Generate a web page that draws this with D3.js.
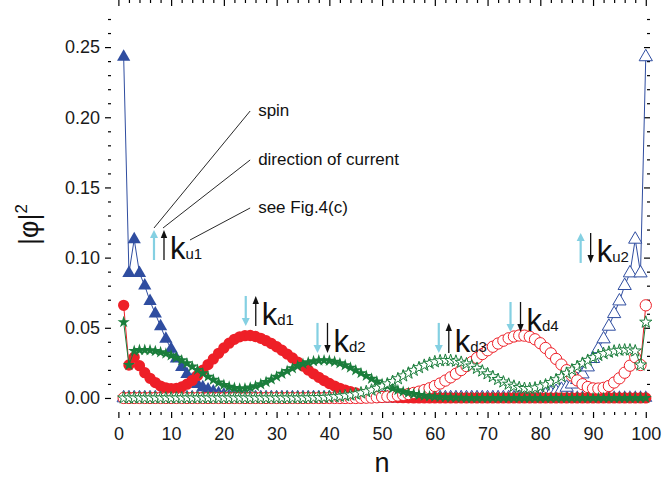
<!DOCTYPE html>
<html>
<head>
<meta charset="utf-8">
<script src="https://cdnjs.cloudflare.com/ajax/libs/d3/7.8.5/d3.min.js"></script>
<style>
body { margin: 0; background: #fff; }
svg { display: block; font-family: "Liberation Sans", Arial, sans-serif; }
</style>
</head>
<body>
<svg width="662" height="479"></svg>
<script>
// site index n = 1..100
var sites = d3.range(1, 101);

// |phi|^2, one value per site
var ku1 = [0.243, 0.089, 0.113, 0.089, 0.080, 0.069, 0.060, 0.051, 0.042, 0.035,
    0.028, 0.022, 0.017, 0.013, 0.0098, 0.0075, 0.006, 0.0045, 0.0033, 0.0023,
    0.0015, 0.001, 0.0006, 0.0003, 0.0001, 0, 0, 0, 0, 0,
    0, 0, 0, 0, 0, 0, 0, 0, 0, 0,
    0, 0, 0, 0, 0, 0, 0, 0, 0, 0,
    0, 0, 0, 0, 0, 0, 0, 0, 0, 0,
    0, 0, 0, 0, 0, 0, 0, 0, 0, 0,
    0, 0, 0, 0, 0, 0, 0, 0, 0, 0,
    0, 0, 0, 0, 0, 0, 0, 0, 0, 0,
    0, 0, 0, 0, 0, 0, 0, 0, 0, 0];

var ku2 = [0, 0, 0, 0, 0, 0, 0, 0, 0, 0,
    0, 0, 0, 0, 0, 0, 0, 0, 0, 0,
    0, 0, 0, 0, 0, 0, 0, 0, 0, 0,
    0, 0, 0, 0, 0, 0, 0, 0, 0, 0,
    0, 0, 0, 0, 0, 0, 0, 0, 0, 0,
    0, 0, 0, 0, 0, 0, 0, 0, 0, 0,
    0, 0, 0, 0, 0, 0, 0, 0, 0, 0,
    0, 0, 0, 0, 0, 0.0001, 0.0003, 0.0006, 0.001, 0.0015,
    0.0023, 0.0033, 0.0045, 0.006, 0.0075, 0.0098, 0.013, 0.017, 0.022, 0.028,
    0.035, 0.042, 0.051, 0.060, 0.069, 0.080, 0.089, 0.113, 0.089, 0.243];

var kd1 = [0.066, 0.0235, 0.029, 0.023, 0.018, 0.014, 0.011, 0.0085, 0.0072, 0.0067,
    0.0068, 0.0078, 0.0098, 0.0125, 0.016, 0.0198, 0.0238, 0.0278, 0.0318, 0.0356,
    0.039, 0.0418, 0.0436, 0.0444, 0.0445, 0.0438, 0.0425, 0.0408, 0.0388, 0.0365,
    0.034, 0.0313, 0.0285, 0.0256, 0.0227, 0.0199, 0.0172, 0.0147, 0.0124, 0.0103,
    0.0085, 0.0069, 0.0056, 0.0045, 0.0036, 0.0028, 0.0022, 0.0017, 0.0013, 0.001,
    0.0007, 0.0005, 0.0003, 0.0002, 0.0001, 0, 0, 0, 0, 0,
    0, 0, 0, 0, 0, 0, 0, 0, 0, 0,
    0, 0, 0, 0, 0, 0, 0, 0, 0, 0,
    0, 0, 0, 0, 0, 0, 0, 0, 0, 0,
    0, 0, 0, 0, 0, 0, 0, 0, 0, 0];

var kd4 = [0, 0, 0, 0, 0, 0, 0, 0, 0, 0,
    0, 0, 0, 0, 0, 0, 0, 0, 0, 0,
    0, 0, 0, 0, 0, 0, 0, 0, 0, 0,
    0, 0, 0, 0, 0, 0, 0, 0, 0, 0,
    0, 0, 0, 0, 0, 0.0001, 0.0002, 0.0003, 0.0005, 0.0007,
    0.001, 0.0013, 0.0017, 0.0022, 0.0028, 0.0036, 0.0045, 0.0056, 0.0069, 0.0085,
    0.0103, 0.0124, 0.0147, 0.0172, 0.0199, 0.0227, 0.0256, 0.0285, 0.0313, 0.034,
    0.0365, 0.0388, 0.0408, 0.0425, 0.0438, 0.0445, 0.0444, 0.0436, 0.0418, 0.039,
    0.0356, 0.0318, 0.0278, 0.0238, 0.0198, 0.016, 0.0125, 0.0098, 0.0078, 0.0068,
    0.0067, 0.0072, 0.0085, 0.011, 0.014, 0.018, 0.023, 0.029, 0.0235, 0.066];

var kd2 = [0.054, 0.0235, 0.0335, 0.0342, 0.0342, 0.034, 0.0334, 0.0326, 0.0316, 0.0303,
    0.0287, 0.0268, 0.0247, 0.0224, 0.02, 0.0176, 0.0152, 0.013, 0.011, 0.0093,
    0.008, 0.0071, 0.0067, 0.0068, 0.0074, 0.0084, 0.0098, 0.0114, 0.0132, 0.0152,
    0.0172, 0.0192, 0.0211, 0.0228, 0.0243, 0.0254, 0.0262, 0.0267, 0.0268, 0.0265,
    0.0258, 0.0247, 0.0233, 0.0216, 0.0197, 0.0177, 0.0157, 0.0137, 0.0118, 0.01,
    0.0084, 0.0069, 0.0056, 0.0045, 0.0036, 0.0028, 0.0021, 0.0016, 0.0012, 0.0009,
    0.0006, 0.0004, 0.0003, 0.0002, 0.0001, 0, 0, 0, 0, 0,
    0, 0, 0, 0, 0, 0, 0, 0, 0, 0,
    0, 0, 0, 0, 0, 0, 0, 0, 0, 0,
    0, 0, 0, 0, 0, 0, 0, 0, 0, 0];

var kd3 = [0, 0, 0, 0, 0, 0, 0, 0, 0, 0,
    0, 0, 0, 0, 0, 0, 0, 0, 0, 0,
    0, 0, 0, 0, 0, 0, 0, 0, 0, 0,
    0, 0, 0, 0, 0, 0.0001, 0.0002, 0.0003, 0.0004, 0.0006,
    0.0009, 0.0012, 0.0016, 0.0021, 0.0028, 0.0036, 0.0045, 0.0056, 0.0069, 0.0084,
    0.01, 0.0118, 0.0137, 0.0157, 0.0177, 0.0197, 0.0216, 0.0233, 0.0247, 0.0258,
    0.0265, 0.0268, 0.0267, 0.0262, 0.0254, 0.0243, 0.0228, 0.0211, 0.0192, 0.0172,
    0.0152, 0.0132, 0.0114, 0.0098, 0.0084, 0.0074, 0.0068, 0.0067, 0.0071, 0.008,
    0.0093, 0.011, 0.013, 0.0152, 0.0176, 0.02, 0.0224, 0.0247, 0.0268, 0.0287,
    0.0303, 0.0316, 0.0326, 0.0334, 0.034, 0.0342, 0.0342, 0.0335, 0.0235, 0.054];

var xTicks = [0, 10, 20, 30, 40, 50, 60, 70, 80, 90, 100];
var yTicks = [0, 0.05, 0.10, 0.15, 0.20, 0.25];

// state labels: k subscript, spin arrow, current arrow, anchor (n, value) at arrow foot
var stateNames = ["u1", "d1", "d2", "d3", "d4", "u2"];
var stateSpin = ["up", "down", "down", "down", "down", "up"];
var stateCurrent = ["up", "up", "down", "up", "down", "down"];
var stateN = [7.7, 25.1, 38.7, 61.7, 75.3, 88.6];
var stateV = [0.0983, 0.0513, 0.0321, 0.0321, 0.047, 0.0962];

var notes = ["spin", "direction of current", "see Fig.4(c)"];
var noteV = [0.2009, 0.166, 0.1318];

var blue = "#2f4da0", red = "#ee1f27", green = "#1a7d3b", cyan = "#84d0e2";

var svg = d3.select("svg");

var x = d3.scaleLinear().domain([-1.4, 100.8]).range([111, 650]),
    y = d3.scaleLinear().domain([-0.01, 0.275]).range([412, 12]);

var left = x.range()[0], right = x.range()[1],
    top = y.range()[1], bottom = y.range()[0];

var xMinor = d3.range(0, 101, 2).filter(function (d) { return d % 10 !== 0; }),
    yMinor = d3.range(0, 28).map(function (d) { return d / 100; }).filter(function (d, i) { return i % 5 !== 0; });

function styleAxis(g) {
    g.select(".domain").remove();
    g.selectAll("line").attr("stroke", "#000").attr("stroke-width", 1.2);
    g.selectAll("text").attr("font-size", 18).attr("fill", "#1a1a1a");
}

// bottom
svg.append("g").attr("transform", "translate(0," + bottom + ")")
    .call(d3.axisBottom(x).tickValues(xTicks).tickSize(6).tickPadding(9).tickFormat(d3.format("d")))
    .call(styleAxis);
svg.append("g").attr("transform", "translate(0," + bottom + ")")
    .call(d3.axisBottom(x).tickValues(xMinor).tickSize(3).tickFormat(""))
    .call(styleAxis);
// top (inward)
svg.append("g").attr("transform", "translate(0," + top + ")")
    .call(d3.axisTop(x).tickValues(xTicks).tickSize(-6).tickFormat(""))
    .call(styleAxis);
svg.append("g").attr("transform", "translate(0," + top + ")")
    .call(d3.axisTop(x).tickValues(xMinor).tickSize(-3).tickFormat(""))
    .call(styleAxis);
// left
svg.append("g").attr("transform", "translate(" + left + ",0)")
    .call(d3.axisLeft(y).tickValues(yTicks).tickSize(6).tickPadding(5).tickFormat(d3.format(".2f")))
    .call(styleAxis);
svg.append("g").attr("transform", "translate(" + left + ",0)")
    .call(d3.axisLeft(y).tickValues(yMinor).tickSize(3).tickFormat(""))
    .call(styleAxis);
// right (inward)
svg.append("g").attr("transform", "translate(" + right + ",0)")
    .call(d3.axisRight(y).tickValues(yTicks).tickSize(-6).tickFormat(""))
    .call(styleAxis);
svg.append("g").attr("transform", "translate(" + right + ",0)")
    .call(d3.axisRight(y).tickValues(yMinor).tickSize(-3).tickFormat(""))
    .call(styleAxis);

svg.append("rect")
    .attr("x", left).attr("y", top)
    .attr("width", right - left).attr("height", bottom - top)
    .attr("fill", "none").attr("stroke", "#000").attr("stroke-width", 1.4);

// series
var series = [
    { values: ku1, color: blue, shape: d3.symbolTriangle, size: 76, open: false },
    { values: ku2, color: blue, shape: d3.symbolTriangle, size: 76, open: true },
    { values: kd1, color: red, shape: d3.symbolCircle, size: 100, open: false },
    { values: kd4, color: red, shape: d3.symbolCircle, size: 100, open: true },
    { values: kd2, color: green, shape: d3.symbolStar, size: 46, open: false },
    { values: kd3, color: green, shape: d3.symbolStar, size: 46, open: true }
];

var line = d3.line()
    .x(function (d) { return x(d[0]); })
    .y(function (d) { return y(d[1]); });

series.forEach(function (s) {
    var pts = sites.map(function (n, i) { return [n, s.values[i]]; });
    var g = svg.append("g");
    g.append("path")
        .attr("d", line(pts))
        .attr("fill", "none")
        .attr("stroke", s.color)
        .attr("stroke-width", 1);
    g.selectAll("path.mark")
        .data(pts)
        .enter().append("path")
        .attr("class", "mark")
        .attr("transform", function (d) { return "translate(" + x(d[0]) + "," + y(d[1]) + ")"; })
        .attr("d", d3.symbol().type(s.shape).size(s.size))
        .attr("fill", s.open ? "#fff" : s.color)
        .attr("stroke", s.open ? s.color : "none")
        .attr("stroke-width", 1);
});

// arrows and k labels
function arrow(cx, yFoot, dir, color, w) {
    var len = 30, head = 8, half = color === cyan ? 4 : 3.2;
    var yTail = dir === "up" ? yFoot : yFoot - len,
        yTip = dir === "up" ? yFoot - len : yFoot,
        s = dir === "up" ? 1 : -1;
    svg.append("line")
        .attr("x1", cx).attr("x2", cx)
        .attr("y1", yTail).attr("y2", yTip + s * head * 0.8)
        .attr("stroke", color).attr("stroke-width", w);
    svg.append("path")
        .attr("d", "M" + cx + "," + yTip + "L" + (cx - half) + "," + (yTip + s * head) + "L" + (cx + half) + "," + (yTip + s * head) + "Z")
        .attr("fill", color);
}

stateNames.forEach(function (name, i) {
    var cx = x(stateN[i]), foot = y(stateV[i]);
    arrow(cx - 5, foot, stateSpin[i], cyan, 2.2);
    arrow(cx + 5, foot, stateCurrent[i], "#111", 1.3);
    var t = svg.append("text")
        .attr("x", cx + 11)
        .attr("y", foot - 1)
        .attr("fill", "#111");
    t.append("tspan").attr("font-size", 31).text("k");
    t.append("tspan").attr("font-size", 15).text(name);
});

// notes pointing at ku1
var kx = x(stateN[0]), kf = y(stateV[0]);
var noteX = x(26.5);
var noteEnds = [[kx - 5, kf - 32], [kx + 4, kf - 32], [kx + 31, kf - 20]];
notes.forEach(function (txt, i) {
    var by = y(noteV[i]);
    svg.append("text")
        .attr("x", noteX).attr("y", by)
        .attr("font-size", 17).attr("fill", "#111")
        .text(txt);
    svg.append("line")
        .attr("x1", noteX - 8).attr("y1", by - 5)
        .attr("x2", noteEnds[i][0]).attr("y2", noteEnds[i][1])
        .attr("stroke", "#111").attr("stroke-width", 0.9);
});

// axis titles
svg.append("text")
    .attr("x", (x(0) + x(100)) / 2).attr("y", 472)
    .attr("text-anchor", "middle")
    .attr("font-size", 27).attr("fill", "#111")
    .text("n");

var yl = svg.append("text")
    .attr("transform", "translate(38," + ((y(0) + y(0.25)) / 2 + 2) + ") rotate(-90)")
    .attr("text-anchor", "middle")
    .attr("font-size", 27).attr("fill", "#111");
yl.append("tspan").text("|φ|");
yl.append("tspan").attr("font-size", 17).attr("dy", -11).text("2");
</script>
</body>
</html>
